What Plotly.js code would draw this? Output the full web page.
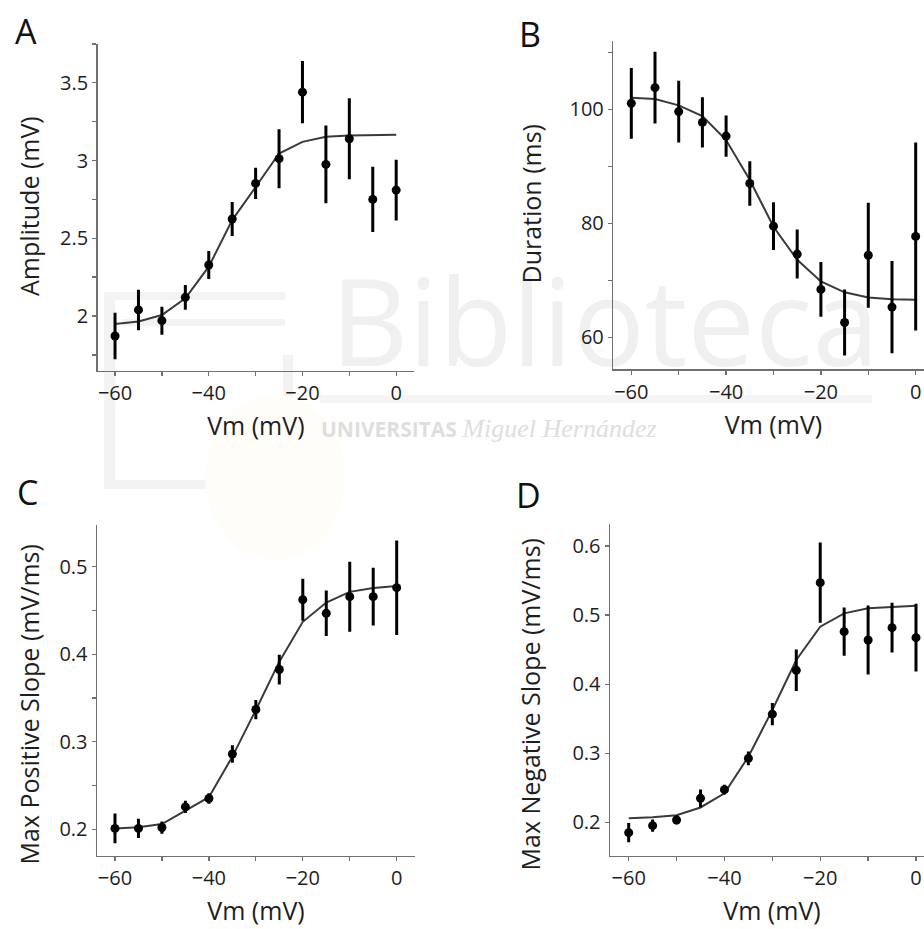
<!DOCTYPE html>
<html>
<head>
<meta charset="utf-8">
<script src="https://cdn.plot.ly/plotly-3.0.1.min.js"></script>
<style>
  html, body { margin: 0; padding: 0; overflow: hidden; background: #fff; }
  #chart { width: 940px; height: 929px; }
</style>
</head>
<body>
<div id="chart"></div>
<script>
// Holding potential (mV) for every step
const vm = [-60, -55, -50, -45, -40, -35, -30, -25, -20, -15, -10, -5, 0];

// A: amplitude (mV), mean ± SEM and Boltzmann fit
const ampMean = [1.871, 2.039, 1.970, 2.120, 2.328, 2.624, 2.853, 3.012, 3.440, 2.975, 3.140, 2.750, 2.810];
const ampErr  = [0.150, 0.130, 0.090, 0.080, 0.090, 0.110, 0.100, 0.190, 0.200, 0.250, 0.260, 0.210, 0.195];
const ampFit  = [1.949, 1.964, 2.006, 2.114, 2.317, 2.617, 2.830, 3.045, 3.120, 3.153, 3.161, 3.164, 3.166];

// B: duration (ms)
const durMean = [101.05, 103.8, 99.6, 97.7, 95.3, 87.0, 79.5, 74.6, 68.4, 62.6, 74.4, 65.3, 77.7];
const durErr  = [6.2, 6.3, 5.4, 4.4, 3.6, 3.9, 4.2, 4.3, 4.8, 5.8, 9.2, 8.1, 16.5];
const durFit  = [102.05, 101.8, 100.7, 98.8, 94.6, 87.6, 79.4, 73.6, 69.8, 67.9, 67.0, 66.7, 66.6];

// C: maximum positive slope (mV/ms)
const posMean = [0.201, 0.201, 0.202, 0.2255, 0.2352, 0.286, 0.3368, 0.3825, 0.4623, 0.4467, 0.4657, 0.4657, 0.476];
const posErr  = [0.017, 0.011, 0.007, 0.007, 0.006, 0.010, 0.011, 0.017, 0.024, 0.026, 0.040, 0.033, 0.054];
const posFit  = [0.201, 0.2023, 0.206, 0.2213, 0.2366, 0.283, 0.3363, 0.3915, 0.437, 0.459, 0.4712, 0.4755, 0.478];

// D: maximum negative slope (mV/ms)
const negMean = [0.185, 0.1952, 0.2034, 0.2347, 0.2473, 0.2926, 0.3566, 0.420, 0.5469, 0.476, 0.464, 0.4818, 0.4673];
const negErr  = [0.014, 0.009, 0.006, 0.013, 0.007, 0.010, 0.016, 0.030, 0.058, 0.035, 0.050, 0.036, 0.049];
const negFit  = [0.2058, 0.2072, 0.2104, 0.2215, 0.242, 0.295, 0.3626, 0.435, 0.4832, 0.5025, 0.5098, 0.5122, 0.5136];

const panelLetters = ['A', 'B', 'C', 'D'];
const yTitles = ['Amplitude (mV)', 'Duration (ms)', 'Max Positive Slope (mV/ms)', 'Max Negative Slope (mV/ms)'];
const xTitle = 'Vm (mV)';

const FONT = '"Open Sans", "DejaVu Sans", sans-serif';
const TEXT = '#1e1e1e';
const AXIS = '#707070';
const W = 940, H = 929;

const px = v => v / W;
const py = v => 1 - v / H;

const panels = [
  { mean: ampMean, err: ampErr, fit: ampFit,
    xdom: [px(97.7), px(414)], ydom: [py(370.7), py(43.5)],
    xr: [-63.7, 3.8], yr: [1.648, 3.753], dtick: 0.5, minor: 0.25,
    letter: [26, 31], ytitle: [29, 206] },
  { mean: durMean, err: durErr, fit: durFit,
    xdom: [px(613.3), px(933.7)], ydom: [py(369.3), py(40.7)],
    xr: [-63.8, 3.8], yr: [54.39, 112.04], dtick: 20, minor: 10,
    letter: [530, 34], ytitle: [530, 204.5] },
  { mean: posMean, err: posErr, fit: posFit,
    xdom: [px(97), px(415)], ydom: [py(855.7), py(525)],
    xr: [-63.83, 3.9], yr: [0.1698, 0.5476], dtick: 0.1, minor: 0.05,
    letter: [27, 492], ytitle: [28.5, 705] },
  { mean: negMean, err: negErr, fit: negFit,
    xdom: [px(610), px(934)], ydom: [py(855.7), py(524.3)],
    xr: [-63.9, 3.76], yr: [0.1517, 0.6314], dtick: 0.1, minor: null,
    letter: [528, 495], ytitle: [529.5, 705] }
];

const traces = [];
const layout = {
  width: W, height: H,
  margin: { l: 0, r: 0, t: 0, b: 0 },
  paper_bgcolor: '#ffffff',
  plot_bgcolor: 'rgba(0,0,0,0)',
  showlegend: false,
  hovermode: false,
  font: { family: FONT, color: TEXT },
  annotations: [],
  shapes: []
};

const tickBase = {
  showline: true, linecolor: AXIS, linewidth: 1.5,
  ticks: 'outside', ticklen: 4, tickwidth: 1.3, tickcolor: AXIS,
  showgrid: false, zeroline: false, fixedrange: true,
  tickfont: { family: FONT, size: 20, color: TEXT }
};
const minorBase = { ticks: 'outside', ticklen: 4, tickwidth: 1.3, tickcolor: AXIS, showgrid: false, tick0: 0 };

panels.forEach((p, i) => {
  const n = i === 0 ? '' : String(i + 1);
  const xa = 'x' + n, ya = 'y' + n;

  // fitted curve
  traces.push({
    type: 'scatter', mode: 'lines', x: vm, y: p.fit,
    xaxis: xa, yaxis: ya,
    line: { color: '#3a3a3a', width: 2 },
    hoverinfo: 'skip'
  });
  // mean ± SEM
  traces.push({
    type: 'scatter', mode: 'markers', x: vm, y: p.mean,
    xaxis: xa, yaxis: ya,
    marker: { color: '#000000', size: 9 },
    error_y: { type: 'data', array: p.err, visible: true, color: '#000000', thickness: 3, width: 0 },
    hoverinfo: 'skip'
  });

  layout['xaxis' + n] = Object.assign({}, tickBase, {
    domain: p.xdom, range: p.xr, anchor: ya,
    tick0: 0, dtick: 20,
    minor: Object.assign({ dtick: 10 }, minorBase),
    title: { text: xTitle, font: { family: FONT, size: 25, color: TEXT }, standoff: 12 }
  });

  const yax = Object.assign({}, tickBase, {
    domain: p.ydom, range: p.yr, anchor: xa,
    tick0: 0, dtick: p.dtick
  });
  if (p.minor) yax.minor = Object.assign({ dtick: p.minor }, minorBase);
  layout['yaxis' + n] = yax;

  // vertical axis title
  layout.annotations.push({
    xref: 'paper', yref: 'paper', x: px(p.ytitle[0]), y: py(p.ytitle[1]),
    xanchor: 'center', yanchor: 'middle', textangle: -90, showarrow: false,
    text: yTitles[i], font: { family: FONT, size: 25, color: TEXT }
  });

  // panel letter
  layout.annotations.push({
    xref: 'paper', yref: 'paper', x: px(p.letter[0]), y: py(p.letter[1]),
    xanchor: 'center', yanchor: 'middle', showarrow: false,
    text: panelLetters[i], font: { family: FONT, size: 34, color: '#111' }
  });
});

// faint library watermark behind the panels
const wmGray = '#f3f3f3';
const bar = (x0, x1, y0, y1, color) => ({
  type: 'rect', xref: 'paper', yref: 'paper', layer: 'below',
  x0: px(x0), x1: px(x1), y0: py(y1), y1: py(y0),
  line: { width: 0 }, fillcolor: color || wmGray
});
layout.shapes.push(
  bar(104, 285, 292, 300),
  bar(122, 285, 319, 326),
  bar(104, 115, 292, 488),
  bar(104, 215, 480, 489),
  bar(283, 293, 355, 462),
  bar(320, 872, 395, 403, '#f4f4f4'),
  {
    type: 'circle', xref: 'paper', yref: 'paper', layer: 'below',
    x0: px(205), x1: px(345), y0: py(560), y1: py(395),
    line: { width: 0 }, fillcolor: '#fefdf7'
  },
  {
    type: 'rect', xref: 'paper', yref: 'paper', layer: 'below',
    x0: px(320), x1: px(890), y0: py(385), y1: py(270),
    line: { width: 0 }, fillcolor: 'rgba(0,0,0,0)',
    label: { text: 'Biblioteca', textposition: 'middle center',
             font: { family: FONT, size: 120, color: '#f0f0f0' } }
  },
  {
    type: 'rect', xref: 'paper', yref: 'paper', layer: 'below',
    x0: px(318), x1: px(716), y0: py(446), y1: py(414),
    line: { width: 0 }, fillcolor: 'rgba(0,0,0,0)',
    label: { text: '<b>UNIVERSITAS</b> <span style="font-family:Liberation Serif;font-size:26px"><i>Miguel Hernández</i></span>',
             textposition: 'middle left', padding: 0,
             font: { family: FONT, size: 21, color: '#dedede' } }
  }
);

Plotly.newPlot('chart', traces, layout, { staticPlot: true, displayModeBar: false });
</script>
</body>
</html>
